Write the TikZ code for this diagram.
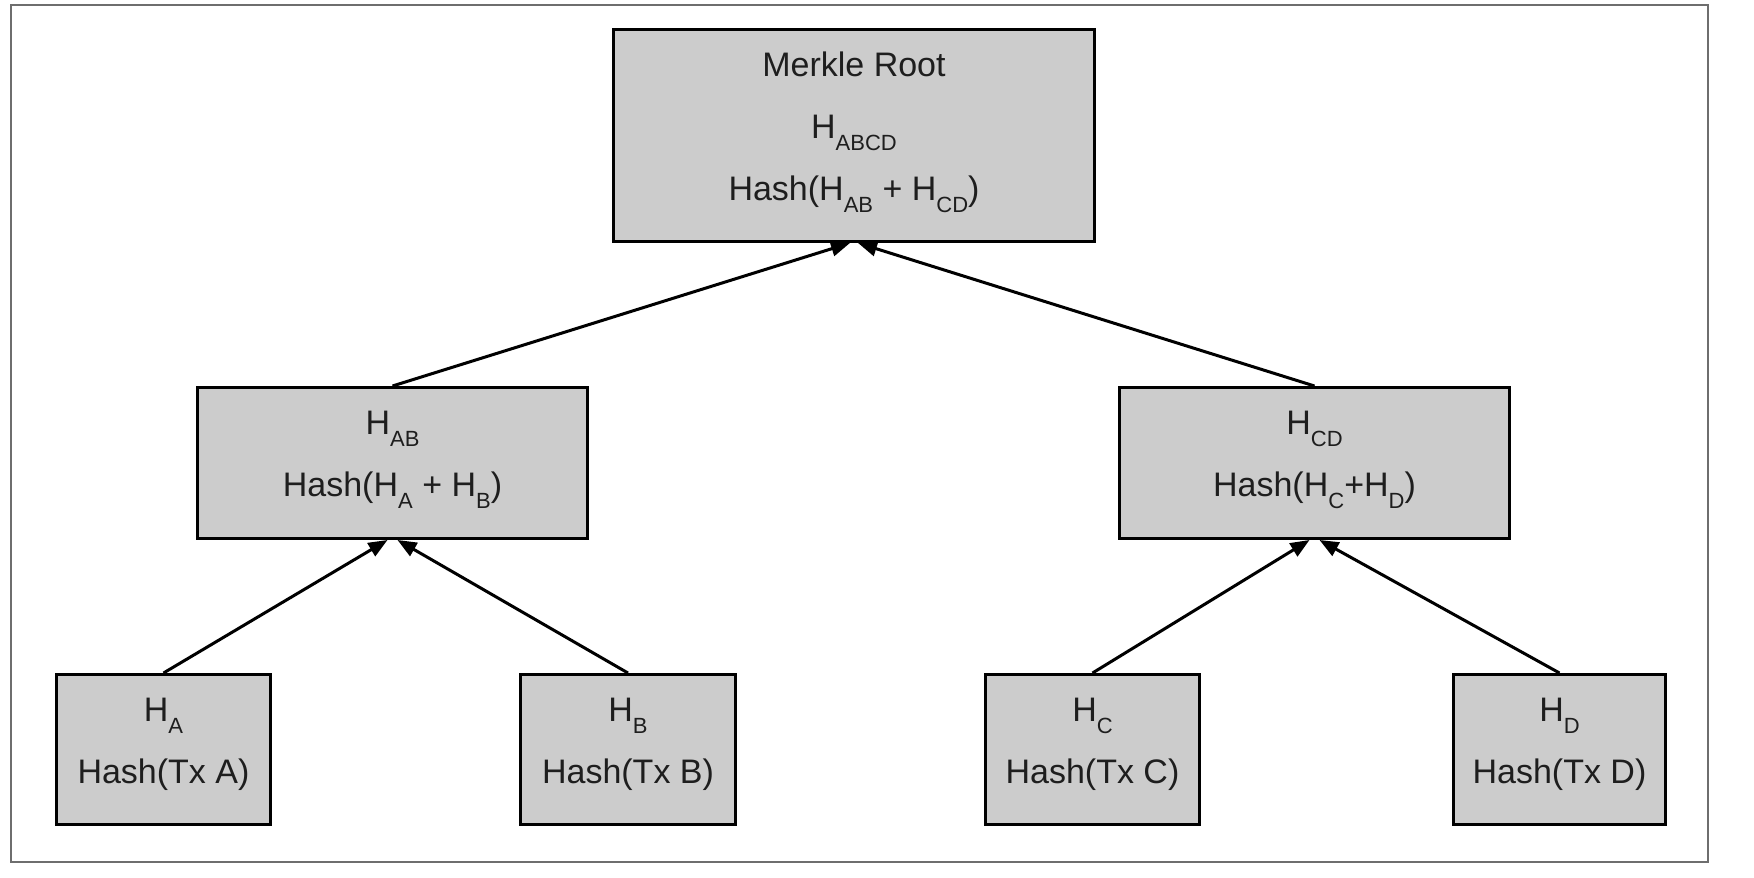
\documentclass[tikz,border=0pt]{standalone}
\usepackage{fontspec}
\setmainfont{Liberation Sans}
\usetikzlibrary{arrows.meta}
% lowered, smaller subscript as used in the hash labels
\newcommand\lowsub[1]{\raisebox{-12pt}{\fontsize{22}{22}\selectfont #1}}
\definecolor{boxgray}{HTML}{CCCCCC}
\definecolor{framegray}{HTML}{6E6E6E}
\definecolor{inkc}{HTML}{1E1E1E}

\begin{document}
\begin{tikzpicture}[x=1pt,y=-1pt,
  hashbox/.style={draw=black, fill=boxgray, line width=3pt, rectangle, inner sep=0pt},
  txt/.style={anchor=base, inner sep=0pt, text=inkc, font=\fontsize{34}{40}\selectfont},
  link/.style={draw=black, line width=3pt, -{Triangle[length=19pt,width=15pt]}}]
\useasboundingbox (0,0) rectangle (1754,878);
\draw[framegray, line width=2pt] (11,5) rectangle (1708,862);

% Merkle root
\node[hashbox, minimum width=481pt, minimum height=212pt] (root) at (854,135.5) {};
\node[txt] (root-a) at (854,76) {Merkle Root};
\node[txt] (root-b) at (854,138) {H\lowsub{ABCD}};
\node[txt] (root-c) at (854,200) {Hash(H\lowsub{AB} + H\lowsub{CD})};

% intermediate hashes
\node[hashbox, minimum width=390pt, minimum height=151pt] (hab) at (392.5,463) {};
\node[txt] (hab-a) at (392.5,434) {H\lowsub{AB}};
\node[txt] (hab-b) at (392.5,496) {Hash(H\lowsub{A} + H\lowsub{B})};

\node[hashbox, minimum width=390pt, minimum height=151pt] (hcd) at (1314.5,463) {};
\node[txt] (hcd-a) at (1314.5,434) {H\lowsub{CD}};
\node[txt] (hcd-b) at (1314.5,496) {Hash(H\lowsub{C}+H\lowsub{D})};

% leaf hashes
\node[hashbox, minimum width=214pt, minimum height=150pt] (ha) at (163.5,749.5) {};
\node[txt] (ha-a) at (163.5,721) {H\lowsub{A}};
\node[txt] (ha-b) at (163.5,783) {Hash(Tx A)};

\node[hashbox, minimum width=215pt, minimum height=150pt] (hb) at (628,749.5) {};
\node[txt] (hb-a) at (628,721) {H\lowsub{B}};
\node[txt] (hb-b) at (628,783) {Hash(Tx B)};

\node[hashbox, minimum width=214pt, minimum height=150pt] (hc) at (1092.5,749.5) {};
\node[txt] (hc-a) at (1092.5,721) {H\lowsub{C}};
\node[txt] (hc-b) at (1092.5,783) {Hash(Tx C)};

\node[hashbox, minimum width=212pt, minimum height=150pt] (hd) at (1559.5,749.5) {};
\node[txt] (hd-a) at (1559.5,721) {H\lowsub{D}};
\node[txt] (hd-b) at (1559.5,783) {Hash(Tx D)};

% links from children to parents
\draw[link] (hab.north) -- ([xshift=-4pt]root.south);
\draw[link] (hcd.north) -- ([xshift=4pt]root.south);
\draw[link] (ha.north) -- ([xshift=-5pt]hab.south);
\draw[link] (hb.north) -- ([xshift=5pt]hab.south);
\draw[link] (hc.north) -- ([xshift=-5pt]hcd.south);
\draw[link] (hd.north) -- ([xshift=5pt]hcd.south);
\end{tikzpicture}
\end{document}
